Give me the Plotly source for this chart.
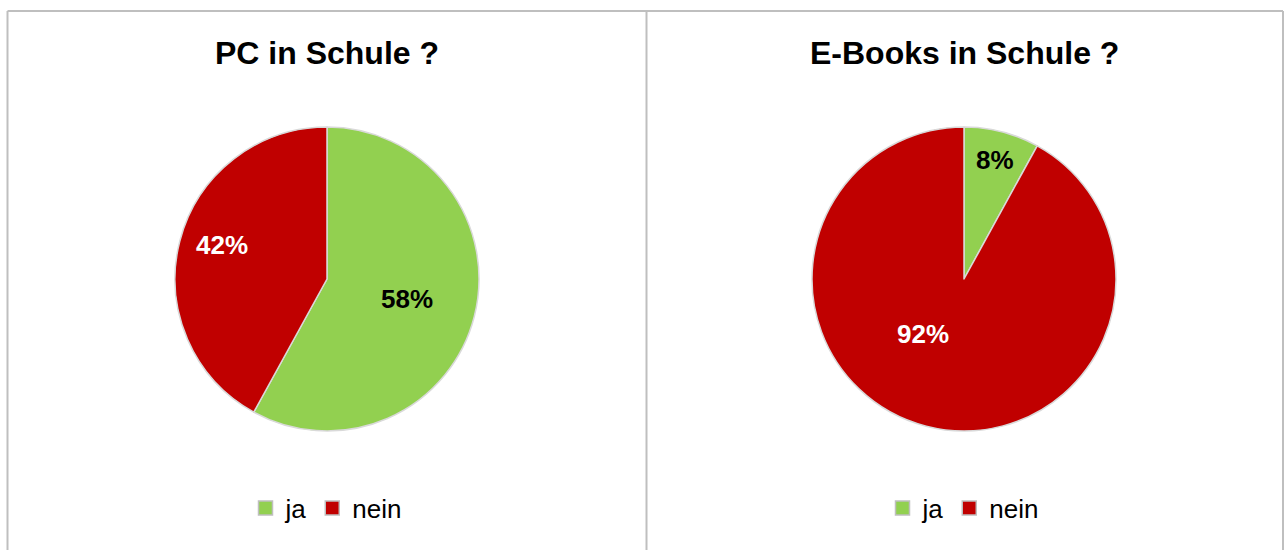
import math
import plotly.graph_objects as go

# Survey answers
labels = ["ja", "nein"]
pc_values = [58, 42]
ebook_values = [8, 92]
titles = ["PC in Schule ?", "E-Books in Schule ?"]

# Styling
colors = ["#92D050", "#C00000"]
text_colors = ["#000000", "#FFFFFF"]
# Percent label placement per slice: (fraction of radius, angular shift in deg)
pc_label_place = [(0.54, 0.0), (0.725, 3.5)]
ebook_label_place = [(0.81, 0.0), (0.45, 22.0)]

W, H = 1285, 550
FONT = "Liberation Sans, Arial, sans-serif"


def px_x(v):
    return v / W


def px_y(v):
    return 1 - v / H


fig = go.Figure()

panels = [
    dict(values=pc_values, title=titles[0], cx=327, legend="legend",
         place=pc_label_place),
    dict(values=ebook_values, title=titles[1], cx=964, legend="legend2",
         place=ebook_label_place),
]
cy, r = 279, 152

for p in panels:
    fig.add_trace(go.Pie(
        labels=labels,
        values=p["values"],
        sort=False,
        direction="clockwise",
        rotation=0,
        marker=dict(colors=colors, line=dict(color="#D9D9D9", width=1.5)),
        textinfo="none",
        hoverinfo="label+percent",
        domain=dict(x=[px_x(p["cx"] - r), px_x(p["cx"] + r)],
                    y=[px_y(cy + r), px_y(cy - r)]),
        showlegend=False,
    ))

    # percent labels, placed along each slice's mid-angle
    total = sum(p["values"])
    start = 0.0
    for v, tc, (frac, shift) in zip(p["values"], text_colors, p["place"]):
        sweep = 360.0 * v / total
        ang = math.radians(start + sweep / 2 + shift)
        start += sweep
        x = p["cx"] + frac * r * math.sin(ang)
        y = cy - frac * r * math.cos(ang)
        fig.add_annotation(
            text="<b>%d%%</b>" % round(100 * v / total),
            x=px_x(x), y=px_y(y), xref="paper", yref="paper",
            xanchor="center", yanchor="middle", showarrow=False,
            font=dict(family=FONT, size=26, color=tc),
        )

    fig.add_annotation(
        text="<b>%s</b>" % p["title"], x=px_x(p["cx"]), y=px_y(53),
        xref="paper", yref="paper", xanchor="center", yanchor="middle",
        showarrow=False, font=dict(family=FONT, size=32, color="#000000"),
    )

    # legend entries for this panel
    for lab, col in zip(labels, colors):
        fig.add_trace(go.Scatter(
            x=[None], y=[None], mode="markers", name=lab,
            marker=dict(symbol="square", size=14, color=col,
                        line=dict(color="#BFBFBF", width=1.5)),
            legend=p["legend"], showlegend=True, hoverinfo="skip",
        ))

legend_style = dict(
    orientation="h", xanchor="center", yanchor="middle",
    font=dict(family=FONT, size=26, color="#000000"),
    bgcolor="rgba(0,0,0,0)", itemwidth=30, tracegroupgap=0,
)

# Panel frames
frame = dict(type="line", xref="paper", yref="paper",
             line=dict(color="#BFBFBF", width=2))
fig.update_layout(
    width=W, height=H,
    margin=dict(l=0, r=0, t=0, b=0),
    paper_bgcolor="#FFFFFF", plot_bgcolor="#FFFFFF",
    xaxis=dict(visible=False), yaxis=dict(visible=False),
    legend=dict(x=px_x(326), y=px_y(508), **legend_style),
    legend2=dict(x=px_x(963), y=px_y(508), **legend_style),
    shapes=[
        dict(frame, x0=px_x(7.5), x1=px_x(1283), y0=px_y(11), y1=px_y(11)),
        dict(frame, x0=px_x(7.5), x1=px_x(7.5), y0=px_y(11), y1=px_y(560)),
        dict(frame, x0=px_x(646.5), x1=px_x(646.5), y0=px_y(11), y1=px_y(560)),
        dict(frame, x0=px_x(1283), x1=px_x(1283), y0=px_y(11), y1=px_y(560)),
    ],
)

fig.write_html("out.html")
